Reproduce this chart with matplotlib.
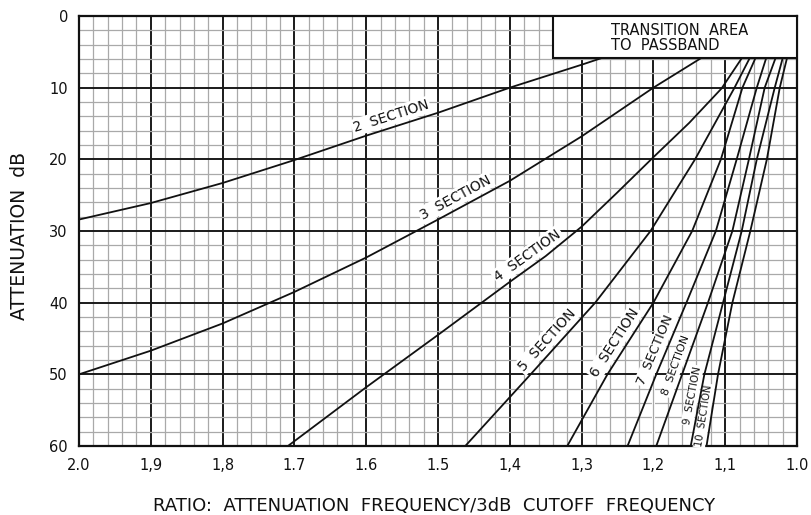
import numpy as np
import matplotlib
matplotlib.use("Agg")
import matplotlib.pyplot as plt
from matplotlib.ticker import MultipleLocator, FixedLocator, FixedFormatter
from matplotlib.patches import Rectangle

plt.rcParams["font.family"] = ["DejaVu Sans"]

# Axis ticks
ratio_ticks = [2.0, 1.9, 1.8, 1.7, 1.6, 1.5, 1.4, 1.3, 1.2, 1.1, 1.0]
ratio_tick_labels = ["2.0", "1,9", "1,8", "1.7", "1.6", "1.5", "1,4", "1,3", "1,2", "1,1", "1.0"]
db_ticks = [0, 10, 20, 30, 40, 50, 60]

# Attenuation curves: ratio vs attenuation (dB) for each filter order
sec2_ratio = [2.0, 1.9, 1.8, 1.7, 1.6, 1.5, 1.4, 1.3, 1.273]
sec2_db = [28.4, 26.1, 23.3, 20.1, 16.7, 13.5, 10.0, 6.8, 5.9]

sec3_ratio = [2.0, 1.9, 1.8, 1.7, 1.6, 1.5, 1.4, 1.3, 1.2, 1.134]
sec3_db = [50.0, 46.7, 42.9, 38.5, 33.7, 28.4, 23.0, 16.8, 10.0, 5.9]

sec4_ratio = [1.709, 1.6, 1.5, 1.4, 1.35, 1.3, 1.25, 1.2, 1.15, 1.105, 1.077]
sec4_db = [60.0, 51.8, 44.5, 37.1, 33.5, 29.4, 24.6, 19.7, 14.9, 10.1, 5.9]

sec5_ratio = [1.462, 1.371, 1.281, 1.204, 1.142, 1.087, 1.066]
sec5_db = [60.0, 50.0, 40.0, 30.0, 20.0, 10.0, 5.9]

sec6_ratio = [1.320, 1.264, 1.200, 1.146, 1.106, 1.076, 1.058]
sec6_db = [60.0, 50.0, 40.0, 30.0, 20.0, 10.0, 5.9]

sec7_ratio = [1.236, 1.196, 1.154, 1.113, 1.084, 1.056, 1.043]
sec7_db = [60.0, 50.0, 40.0, 30.0, 20.0, 10.0, 5.9]

sec8_ratio = [1.196, 1.160, 1.124, 1.090, 1.067, 1.045, 1.030]
sec8_db = [60.0, 50.0, 40.0, 30.0, 20.0, 10.0, 5.9]

sec9_ratio = [1.148, 1.129, 1.103, 1.077, 1.056, 1.031, 1.020]
sec9_db = [60.0, 50.0, 40.0, 30.0, 20.0, 10.0, 5.9]

sec10_ratio = [1.126, 1.110, 1.090, 1.065, 1.042, 1.024, 1.014]
sec10_db = [60.0, 50.0, 40.0, 30.0, 20.0, 10.0, 5.9]

curves = [
    (sec2_ratio, sec2_db), (sec3_ratio, sec3_db), (sec4_ratio, sec4_db),
    (sec5_ratio, sec5_db), (sec6_ratio, sec6_db), (sec7_ratio, sec7_db),
    (sec8_ratio, sec8_db), (sec9_ratio, sec9_db), (sec10_ratio, sec10_db),
]

# Curve labels: where each label sits along its curve, its gap from the line (px) and size
label_texts = ["2  SECTION", "3  SECTION", "4  SECTION", "5  SECTION", "6  SECTION",
               "7  SECTION", "8  SECTION", "9  SECTION", "10  SECTION"]
label_ratio = [1.561, 1.468, 1.366, 1.337, 1.241, 1.184, 1.157, 1.135, 1.1195]
label_gap = [11, 11, 11, 11, 11, 10, 8.5, 8, 7.5]
label_size = [10, 10, 10, 10, 10, 9.5, 8, 7.5, 7.2]

# Transition area box
box_left, box_right = 1.34, 1.0
box_top, box_bottom = 0.0, 5.9

ink = "#111111"
minor_grey = "#a9a9a9"

fig = plt.figure(figsize=(8.12, 5.15), dpi=100)
ax = fig.add_axes([79 / 812, 1 - 446 / 515, (797 - 79) / 812, (446 - 16) / 515])

ax.set_xlim(2.0, 1.0)
ax.set_ylim(60, 0)

ax.xaxis.set_major_locator(FixedLocator(ratio_ticks))
ax.xaxis.set_major_formatter(FixedFormatter(ratio_tick_labels))
ax.xaxis.set_minor_locator(MultipleLocator(0.02))
ax.yaxis.set_major_locator(FixedLocator(db_ticks))
ax.yaxis.set_minor_locator(MultipleLocator(2))

ax.set_axisbelow(True)
ax.grid(which="minor", color=minor_grey, linewidth=0.9)
ax.grid(which="major", color="#1a1a1a", linewidth=1.4)

# the 1.2 rule is left light below 44.5 dB
ax.plot([1.2, 1.2], [44.5, 60], color="white", linewidth=2.2, zorder=0.6)
ax.plot([1.2, 1.2], [44.5, 60], color=minor_grey, linewidth=0.9, zorder=0.7)

for s in ax.spines.values():
    s.set_linewidth(1.6)
    s.set_color(ink)

ax.tick_params(which="both", length=0)
ax.tick_params(axis="x", pad=9, labelsize=10.5, labelcolor=ink)
ax.tick_params(axis="y", pad=8, labelsize=10.5, labelcolor=ink)

for r, d in curves:
    ax.plot(r, d, color=ink, linewidth=1.3, zorder=4, solid_capstyle="butt")

# Labels run along each curve, just on its upper-left side
to_disp = ax.transData
to_data = ax.transData.inverted()
for (r, d), t, r0, gap, fs in zip(curves, label_texts, label_ratio, label_gap, label_size):
    rs = np.array(r)[::-1]
    ds = np.array(d)[::-1]
    d0 = np.interp(r0, rs, ds)
    r1 = r0 - 0.004
    d1 = np.interp(r1, rs, ds)
    p0 = to_disp.transform((r0, d0))
    p1 = to_disp.transform((r1, d1))
    ang = np.arctan2(p1[1] - p0[1], p1[0] - p0[0])
    normal = np.array([-np.sin(ang), np.cos(ang)])
    c = to_data.transform(p0 + gap * normal)
    ax.text(c[0], c[1], t, rotation=np.degrees(ang), rotation_mode="anchor",
            ha="center", va="center", fontsize=fs, color=ink, zorder=3,
            bbox=dict(boxstyle="square,pad=0.12", facecolor="white", edgecolor="none"))

ax.add_patch(Rectangle((box_left, box_top), box_right - box_left, box_bottom - box_top,
                       facecolor="white", edgecolor=ink, linewidth=1.5, zorder=5))
ax.text(1.2594, 3.05, "TRANSITION  AREA\nTO  PASSBAND", ha="left", va="center",
        fontsize=10.5, color=ink, linespacing=1.05, zorder=6)

fig.text(434 / 812, 1 - 511 / 515, "RATIO:  ATTENUATION  FREQUENCY/3dB  CUTOFF  FREQUENCY",
         ha="center", va="baseline", fontsize=13, color=ink)
fig.text(20 / 812, 1 - 236 / 515, "ATTENUATION  dB", rotation=90,
         ha="center", va="center", fontsize=13.5, color=ink)

fig.savefig("out.png", dpi=100, facecolor="white")
